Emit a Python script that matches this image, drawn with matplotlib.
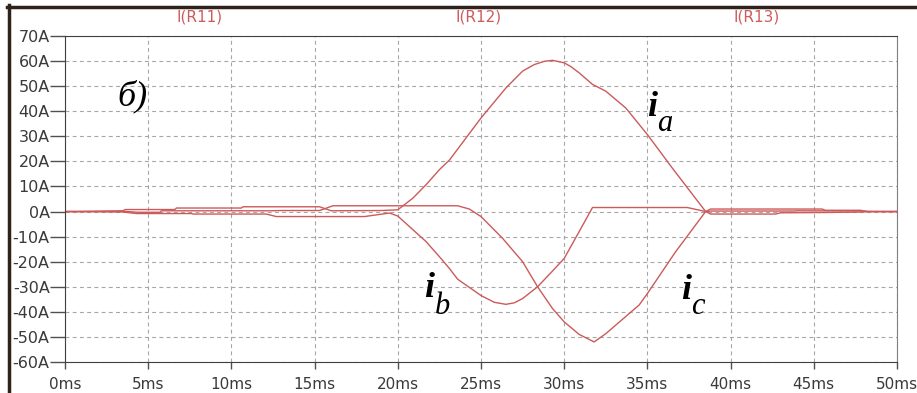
import matplotlib
matplotlib.use("Agg")
import matplotlib.pyplot as plt
from matplotlib.lines import Line2D

ia_t = [0, 0.7, 3.5, 3.6, 6.6, 6.7, 10.6, 10.7, 15.3, 16.0, 19.0, 20.0, 20.9, 21.7,
        22.5, 23.1, 24.4, 25.0, 26.5, 27.5, 28.2, 28.8, 29.3, 30.0, 30.4, 30.9, 31.7,
        32.5, 33.7, 35.0, 36.5, 38.5, 38.8, 45.5, 45.7, 47.8, 48.2, 50]
ia_v = [0, 0, 0.3, 0.8, 0.8, 1.4, 1.4, 1.9, 1.9, 0.3, 0.4, 0.7, 5.3, 10.7,
        16.7, 20.5, 32.0, 37.3, 49.3, 56.0, 58.6, 59.9, 60.3, 59.3, 57.8, 55.3, 50.7,
        48.0, 41.3, 30.7, 17.3, 0, 1.0, 1.0, 0.5, 0.5, 0, 0]

ib_t = [0, 0.7, 3.5, 4.3, 7.6, 7.7, 12.1, 12.7, 18.0, 19.5, 20.0, 21.7, 22.5,
        23.1, 23.6, 25.0, 25.8, 26.5, 27.0, 27.5, 28.4, 29.3, 30.0, 30.9, 31.7, 37.4,
        38.5, 38.8, 42.7, 43.0, 45.3, 47.9, 48.5, 50]
ib_v = [0, 0, -0.2, -0.8, -0.8, -1.0, -1.0, -2.0, -2.0, -0.6, -1.8, -12.0, -18.0,
        -22.7, -27.0, -33.5, -36.2, -37.0, -36.4, -34.7, -30.0, -23.7, -18.7, -8.0, 1.6,
        1.6, 0, -1.0, -1.0, -0.5, -0.4, -0.2, 0, 0]

ic_t = [0, 0.7, 3.5, 4.4, 5.7, 5.8, 12.3, 13.0, 15.3, 16.1, 23.6, 24.3, 25.0,
        26.3, 27.5, 28.4, 29.3, 30.0, 30.9, 31.8, 32.5, 34.5, 35.0, 36.7, 38.5,
        38.8, 43.8, 44.0, 47.9, 48.5, 50]
ic_v = [0, 0, 0.1, -0.3, -0.3, 0.3, 0.3, 0.4, 0.4, 2.3, 2.3, 1.0, -2.0,
        -10.7, -20.0, -30.0, -38.7, -44.0, -49.0, -52.0, -48.7, -37.3, -32.7, -16.0, 0,
        0.2, 0.2, 0.3, 0.2, 0, 0]

x_ticks = list(range(0, 51, 5))
x_labels = [f"{v}ms" for v in x_ticks]
y_ticks = list(range(-60, 71, 10))
y_labels = [f"{v}A" for v in y_ticks]
traces = ["I(R11)", "I(R12)", "I(R13)"]

line_col = "#cc5a5a"
txt_col = "#3a3a3a"

fig = plt.figure(figsize=(9.17, 3.93), dpi=100)
fig.patch.set_facecolor("white")
ax = fig.add_axes([65 / 917, 1 - 362 / 393, 832 / 917, 326 / 393])

for t, v in [(ia_t, ia_v), (ib_t, ib_v), (ic_t, ic_v)]:
    ax.plot(t, v, color=line_col, lw=1.0, solid_joinstyle="round")

ax.set_xlim(0, 50)
ax.set_ylim(-60, 70)
ax.set_xticks(x_ticks)
ax.set_xticklabels(x_labels)
ax.set_yticks(y_ticks)
ax.set_yticklabels(y_labels)
ax.tick_params(axis="y", length=11, width=1, color="#505050", pad=0,
               labelsize=11.5, labelcolor=txt_col)
ax.tick_params(axis="x", length=5, width=1, color="#505050", pad=6,
               labelsize=11, labelcolor=txt_col)
ax.grid(True, color="#a6a6a6", lw=0.8, linestyle=(0, (3.5, 3)))
for side in ["left", "bottom", "top"]:
    ax.spines[side].set_color("#404040")
ax.spines["right"].set_color("#808080")

# noms des traces
for i, name in enumerate(traces):
    fig.text((200 + i * 278.5) / 917, 1 - 17 / 393, name, ha="center", va="center",
             fontsize=11, color="#cf5c5c")

# annotations
serif = ["Liberation Serif", "DejaVu Serif"]
ax.text(3.15, 42.4, "б)", fontsize=26, style="italic", family=serif, va="baseline")
labels = [(35.3, 38.0, 35.6, 32.0, "a"),
          (21.9, -34.0, 22.2, -40.8, "b"),
          (37.3, -34.8, 37.6, -40.8, "c")]
for xi, yi, xs, ys, sub in labels:
    ax.text(xi, yi, "i", fontsize=26, style="italic", weight="bold", family=serif,
            ha="center", va="baseline")
    ax.text(xs, ys, sub, fontsize=22, style="italic", family=serif,
            ha="left", va="baseline")

# cadre de la fenêtre
fig.add_artist(Line2D([7 / 917, 1], [1 - 6.5 / 393] * 2, color="#2e221a", lw=2.5))
fig.add_artist(Line2D([9 / 917] * 2, [0, 1 - 5 / 393], color="#2e221a", lw=2.5))

fig.savefig("out.png", dpi=100, facecolor="white")
